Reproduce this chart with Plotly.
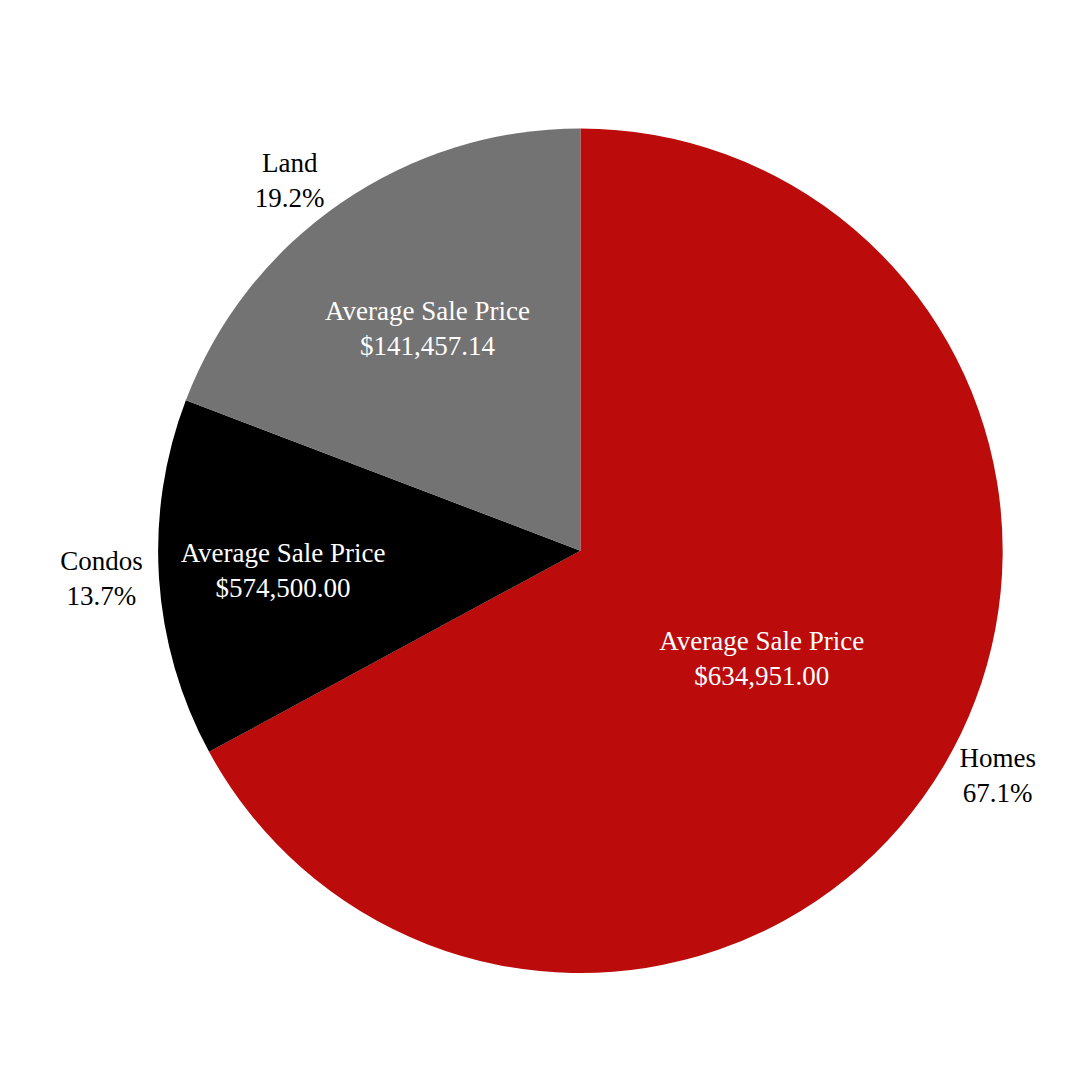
import plotly.graph_objects as go

labels = ["Homes", "Condos", "Land"]
shares = [67.1, 13.7, 19.2]
avg_prices = ["$634,951.00", "$574,500.00", "$141,457.14"]
colors = ["#BB0B0B", "#000000", "#737373"]

font_family = "Liberation Serif, DejaVu Serif, serif"
dom = dict(x=[0.139, 0.921], y=[0.10, 0.895])

fig = go.Figure()
fig.add_trace(go.Pie(
    labels=labels, values=shares, sort=False, direction="clockwise", rotation=0,
    marker=dict(colors=colors, line=dict(width=0)),
    text=[f"{l}<br>{v:.1f}%" for l, v in zip(labels, shares)],
    textinfo="text", textposition="outside",
    textfont=dict(family=font_family, size=27, color="black"),
    showlegend=False, domain=dom, hoverinfo="skip",
))
fig.add_trace(go.Pie(
    labels=labels, values=shares, sort=False, direction="clockwise", rotation=0,
    marker=dict(colors=["rgba(0,0,0,0)"] * 3, line=dict(width=0)),
    text=[f"Average Sale Price<br>{p}" for p in avg_prices],
    textinfo="text", textposition="inside", insidetextorientation="horizontal",
    textfont=dict(family=font_family, size=27, color="white"),
    showlegend=False, domain=dom, hoverinfo="skip",
))
fig.update_layout(width=1080, height=1080, margin=dict(l=0, r=0, t=0, b=0),
                  paper_bgcolor="white", plot_bgcolor="white",
                  uniformtext=dict(minsize=27, mode="show"))
fig.write_html("out.html")
